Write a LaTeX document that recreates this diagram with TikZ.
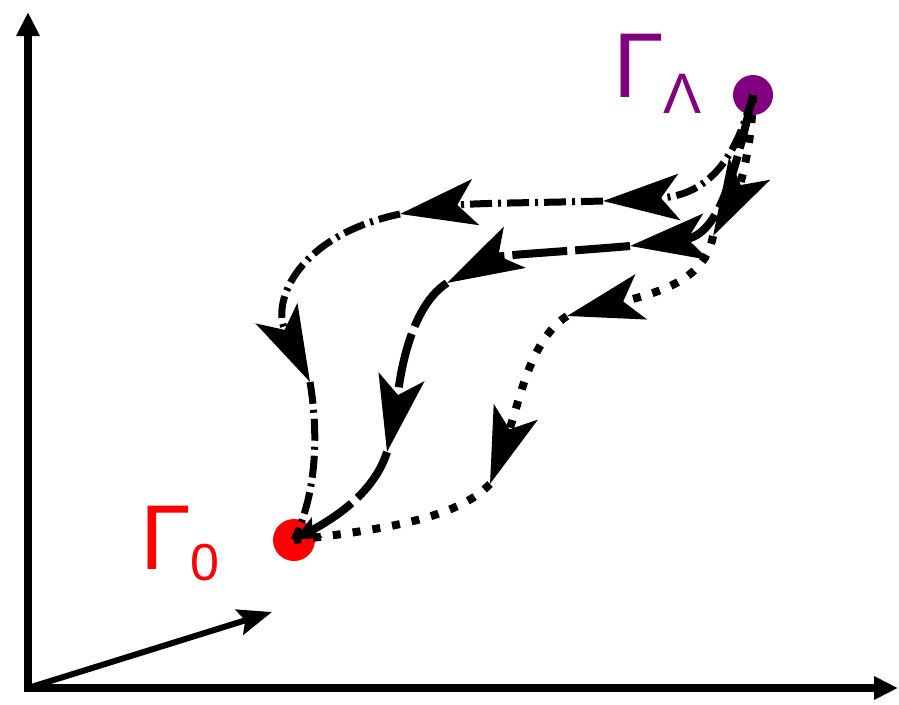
\documentclass[tikz,border=0pt]{standalone}
\usepackage{fontspec}
\setmainfont{Liberation Sans}
\usetikzlibrary{arrows.meta}
\definecolor{gpurple}{RGB}{128,0,128}
\definecolor{gred}{RGB}{255,0,0}
\begin{document}
\begin{tikzpicture}[x=1pt,y=-1pt,
  axisline/.style={line width=8pt, line cap=butt},
  bigtip/.tip={Stealth[length=76pt,width=46pt,inset=18pt]},
  smalltip/.tip={Stealth[length=26pt,width=22pt,inset=5pt]},
  axtip/.tip={Triangle[length=24pt,width=22pt]},
  dashdotpath/.style={line width=7pt, line cap=butt, dash pattern=on 22pt off 6pt on 3pt off 6pt},
  dashedpath/.style={line width=8pt, line cap=butt, dash pattern=on 55pt off 8pt},
  dottedpath/.style={line width=8pt, line cap=butt, dash pattern=on 8pt off 12pt},
  dot/.style={circle, inner sep=0pt},
  lab/.style={anchor=base west, inner sep=0pt, font=\fontsize{92pt}{92pt}\selectfont}
]
\useasboundingbox (0,0) rectangle (899,704);

% axes
\coordinate (o) at (28,688);
\coordinate (ytop) at (28,12);
\coordinate (xend) at (898,688);
\coordinate (ybot) at (28,692);
\coordinate (xbeg) at (24,688);
\coordinate (zend) at (272,612);
\draw[axisline, -{axtip}] (ybot) -- (ytop);
\draw[axisline, -{axtip}] (xbeg) -- (xend);
\draw[line width=6pt, -{Stealth[length=34pt,width=26pt,inset=6pt]}] (o) -- (zend);

% end points
\node[dot, fill=gpurple, minimum size=40pt] (gl) at (753,95) {};
\node[dot, fill=gred, minimum size=42pt] (g0) at (294,540) {};

% labels
\node[lab, text=gpurple] (lgl) at (613,97) {Γ\raisebox{-16pt}{\fontsize{57pt}{57pt}\selectfont Λ}};
\node[lab, text=gred] (lg0) at (140,569) {Γ\raisebox{-11pt}{\fontsize{52pt}{52pt}\selectfont 0}};

% arrow tip positions
\coordinate (t1) at (603,201);
\coordinate (t2) at (400,214);
\coordinate (t3) at (310,382);
\coordinate (m1) at (630,246);
\coordinate (m2) at (447,283);
\coordinate (m3) at (387,452);
\coordinate (d1) at (713,236);
\coordinate (d2) at (567,316);
\coordinate (d3) at (490,484);

% top path (dash-dot)
\draw[dashdotpath, -{bigtip}] (gl.center) .. controls (740,140) and (720,195) .. (t1);
\draw[dashdotpath, -{bigtip}] (t1) .. controls (530,203) and (470,203) .. (t2);
\draw[dashdotpath, -{bigtip}] (t2) .. controls (300,235) and (270,300) .. (t3);
\draw[dashdotpath] (t3) .. controls (318,430) and (318,490) .. (g0.center);

% middle path (dashed)
\draw[dashedpath, -{bigtip}] (gl.center) .. controls (735,170) and (720,235) .. (m1);
\draw[dashedpath, -{bigtip}] (m1) .. controls (560,252) and (500,255) .. (m2);
\draw[dashedpath, -{bigtip}] (m2) .. controls (405,310) and (398,395) .. (m3);
\draw[dashedpath, -{smalltip}] (m3) .. controls (375,490) and (340,515) .. (g0.center);

% right path (dotted)
\draw[dottedpath, -{bigtip}] (gl.center) .. controls (752,150) and (738,190) .. (d1);
\draw[dottedpath, -{bigtip}] (d1) .. controls (705,280) and (660,292) .. (d2);
\draw[dottedpath, -{bigtip}] (d2) .. controls (530,340) and (520,400) .. (d3);
\draw[dottedpath] (d3) .. controls (460,515) and (400,528) .. (g0.center);
\end{tikzpicture}
\end{document}
